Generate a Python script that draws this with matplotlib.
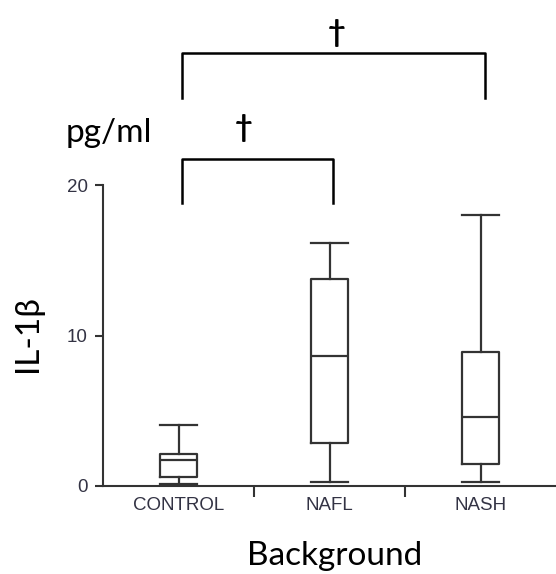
import matplotlib
matplotlib.use("Agg")
import matplotlib.pyplot as plt

# Box summary values (pg/ml)
groups = ["CONTROL", "NAFL", "NASH"]
whisker_low = [0.13, 0.25, 0.25]
q1 = [0.62, 2.84, 1.46]
median = [1.73, 8.64, 4.60]
q3 = [2.10, 13.75, 8.93]
whisker_high = [4.05, 16.13, 18.03]

y_ticks = [0, 10, 20]

big_font = ["Lato", "DejaVu Sans"]
small_font = ["Liberation Sans", "DejaVu Sans"]
line_col = "#333333"

fig = plt.figure(figsize=(5.56, 5.74), dpi=100, facecolor="white")
ax = fig.add_axes([103 / 556, 88 / 574, 453 / 556, 301 / 574])

stats = []
for i, name in enumerate(groups):
    stats.append({
        "label": name,
        "whislo": whisker_low[i],
        "q1": q1[i],
        "med": median[i],
        "q3": q3[i],
        "whishi": whisker_high[i],
        "fliers": [],
    })

ax.bxp(
    stats,
    positions=range(len(groups)),
    widths=0.25,
    capwidths=0.25,
    showfliers=False,
    boxprops=dict(color=line_col, linewidth=1.6),
    whiskerprops=dict(color=line_col, linewidth=1.6),
    capprops=dict(color=line_col, linewidth=1.6),
    medianprops=dict(color=line_col, linewidth=1.6),
)

ax.set_xlim(-0.5, 2.5)
ax.set_ylim(0, 20)

for side in ["top", "right"]:
    ax.spines[side].set_visible(False)
for side in ["left", "bottom"]:
    ax.spines[side].set_color(line_col)
    ax.spines[side].set_linewidth(1.5)

ax.set_xticks(range(len(groups)))
ax.set_xticklabels(groups, family=small_font, fontsize=13.5, color="#333344")
ax.set_xticks([0.5, 1.5], minor=True)
ax.tick_params(axis="x", which="major", length=0, pad=8)
ax.tick_params(axis="x", which="minor", length=8, width=1.5, color=line_col,
               direction="out")

ax.set_yticks(y_ticks)
ax.set_yticklabels([str(t) for t in y_ticks], family=small_font,
                   fontsize=13.5, color="#333344")
ax.tick_params(axis="y", length=6, width=1.5, color=line_col, pad=5)

# significance brackets
ax.plot([0.02, 0.02, 2.03, 2.03], [25.8, 28.8, 28.8, 25.8], color="black",
        lw=1.8, clip_on=False)
ax.text(1.05, 30.1, "\u2020", ha="center", va="center", fontsize=22,
        fontweight="bold", family=big_font, clip_on=False)
ax.plot([0.02, 0.02, 1.02, 1.02], [18.8, 21.7, 21.7, 18.8], color="black",
        lw=1.8, clip_on=False)
ax.text(0.43, 23.8, "\u2020", ha="center", va="center", fontsize=22,
        fontweight="bold", family=big_font, clip_on=False)

fig.text(66 / 556, (574 - 142) / 574, "pg/ml", ha="left", va="baseline",
         fontsize=24, family=big_font)
fig.text(28 / 556, (574 - 334) / 574, "IL-1\u03b2", ha="center", va="center",
         rotation=90, fontsize=24, family=big_font)
fig.text(335 / 556, (574 - 565) / 574, "Background", ha="center",
         va="baseline", fontsize=24, family=big_font)

fig.savefig("out.png", dpi=100, facecolor="white")
